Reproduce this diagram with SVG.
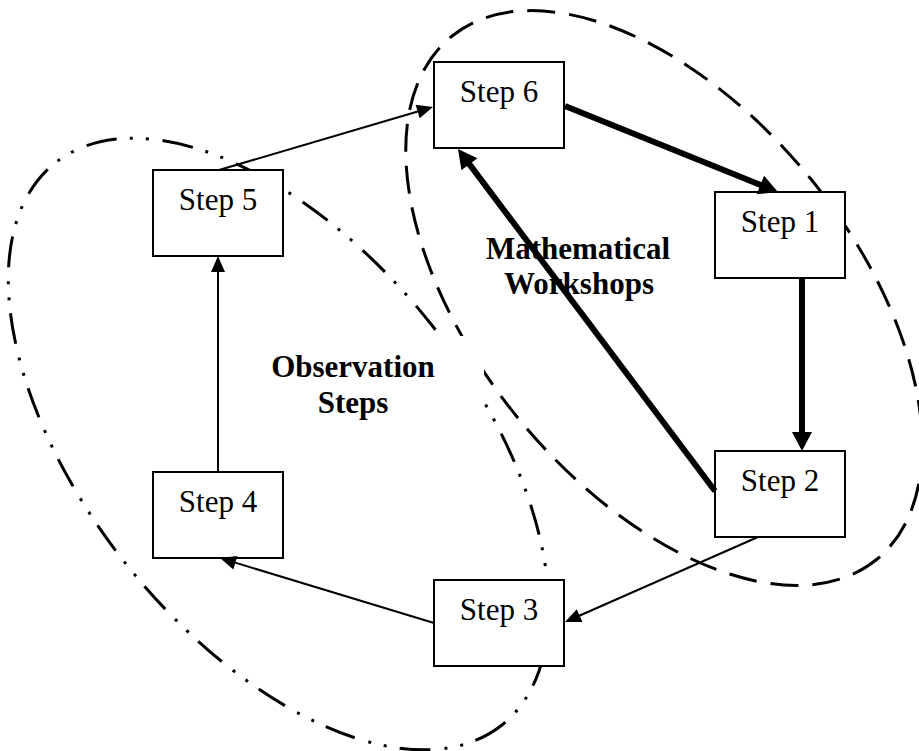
<svg xmlns="http://www.w3.org/2000/svg" width="919" height="751" viewBox="0 0 919 751">
  <defs>
    <style>
      .bg { fill: #ffffff; }
      .region { fill: none; stroke: #000000; stroke-width: 3; }
      .dashed { stroke-dasharray: 28 14; }
      .dashdot { stroke-dasharray: 31 13 3 13 3 14; }
      .box { fill: #ffffff; stroke: #000000; stroke-width: 2; }
      .step { font-family: "Liberation Serif", "Times New Roman", serif; font-size: 31px; fill: #000000; text-anchor: middle; }
      .label { font-family: "Liberation Serif", "Times New Roman", serif; font-size: 31px; font-weight: bold; fill: #000000; text-anchor: middle; }
      .thin { fill: none; stroke: #000000; stroke-width: 2; marker-end: url(#arrow-thin); }
      .thick { fill: none; stroke: #000000; stroke-width: 6; marker-end: url(#arrow-thick); }
    </style>
    <marker id="arrow-thin" markerUnits="userSpaceOnUse" markerWidth="17" markerHeight="16" viewBox="-1 -8 17 16" refX="0" refY="0" orient="auto" overflow="visible">
      <path d="M-1,-7 L15,0 L-1,7 Z" fill="#000000"/>
    </marker>
    <marker id="arrow-thick" markerUnits="userSpaceOnUse" markerWidth="20" markerHeight="22" viewBox="-1 -11 20 22" refX="0" refY="0" orient="auto" overflow="visible">
      <path d="M-1,-10 L18,0 L-1,10 Z" fill="#000000"/>
    </marker>
  </defs>

  <rect class="bg" x="0" y="0" width="919" height="751"/>

  <!-- grouping outlines -->
  <g id="regions">
    <ellipse id="region-workshops" class="region dashed" cx="0" cy="0" rx="337" ry="189" transform="translate(664 298) rotate(50.9)"/>
    <ellipse id="region-observation" class="region dashdot" cx="0" cy="0" rx="359" ry="194" transform="translate(278.5 444) rotate(51.5)"/>
  </g>

  <!-- captions -->
  <g id="label-observation">
    <rect x="245" y="336" width="239" height="90" fill="#ffffff"/>
    <text class="label" x="353" y="377">Observation</text>
    <text class="label" x="353" y="413">Steps</text>
  </g>
  <g id="label-workshops">
    <text class="label" x="578" y="259">Mathematical</text>
    <text class="label" x="579" y="294">Workshops</text>
  </g>

  <!-- steps -->
  <g id="step6">
    <rect class="box" x="434" y="62" width="130" height="86"/>
    <text class="step" x="499" y="102">Step 6</text>
  </g>
  <g id="step1">
    <rect class="box" x="715" y="192" width="130" height="86"/>
    <text class="step" x="780" y="232">Step 1</text>
  </g>
  <g id="step2">
    <rect class="box" x="715" y="451" width="130" height="86"/>
    <text class="step" x="780" y="491">Step 2</text>
  </g>
  <g id="step3">
    <rect class="box" x="434" y="580" width="130" height="86"/>
    <text class="step" x="499" y="620">Step 3</text>
  </g>
  <g id="step4">
    <rect class="box" x="153" y="472" width="130" height="86"/>
    <text class="step" x="218" y="512">Step 4</text>
  </g>
  <g id="step5">
    <rect class="box" x="153" y="170" width="130" height="86"/>
    <text class="step" x="218" y="210">Step 5</text>
  </g>

  <!-- connectors: lines end at the arrowhead base -->
  <g id="connectors">
    <path class="thin" d="M219,170 L418.6,111.2"/>
    <path class="thick" d="M565,106 L761.3,185.3"/>
    <path class="thick" d="M802,278 L802,433"/>
    <path class="thick" d="M715,491 L468.8,163.4"/>
    <path class="thin" d="M758,537 L578.7,616"/>
    <path class="thin" d="M434,623 L234.4,562.4"/>
    <path class="thin" d="M218,472 L218,271"/>
  </g>
</svg>
